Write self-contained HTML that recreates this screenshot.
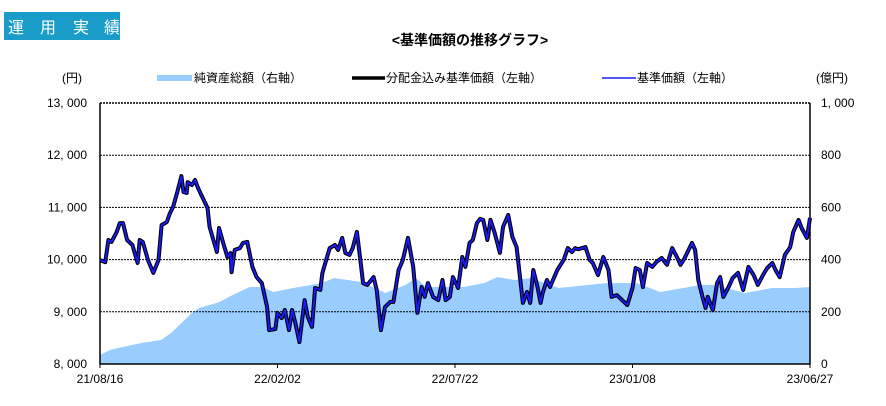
<!DOCTYPE html>
<html><head><meta charset="utf-8">
<style>
body{margin:0;background:#fff;width:886px;height:401px;overflow:hidden;font-family:"Liberation Sans","Noto Sans CJK JP",sans-serif;}
</style></head>
<body>
<svg id="chart" width="886" height="401" xmlns="http://www.w3.org/2000/svg" font-family="Liberation Sans, Noto Sans CJK JP, sans-serif">
<rect x="4" y="12" width="116" height="28" fill="#1a9cc8"/>
<g font-size="16" fill="#fff">
<text x="8" y="33">運</text><text x="40" y="33">用</text><text x="73" y="33">実</text><text x="104" y="33">績</text>
</g>
<text x="470" y="45" font-size="14" text-anchor="middle" fill="#000" font-weight="bold">&lt;基準価額の推移グラフ&gt;</text>
<text x="62" y="82" font-size="12">(円)</text>
<text x="816" y="82" font-size="12">(億円)</text>
<g>
<rect x="157" y="75" width="35" height="6" fill="#99ccff"/>
<text x="194" y="82" font-size="12">純資産総額（右軸）</text>
<line x1="352" y1="78" x2="385" y2="78" stroke="#000" stroke-width="3.5"/>
<text x="386" y="82" font-size="12">分配金込み基準価額（左軸）</text>
<line x1="602" y1="78" x2="636" y2="78" stroke="#1a1aff" stroke-width="1.5"/>
<text x="637" y="82" font-size="12">基準価額（左軸）</text>
</g>
<g id="plot"></g>
</svg>
<script>
const xTickLabels=["21/08/16","22/02/02","22/07/22","23/01/08","23/06/27"];
const xTickDays=[0,170,340,510,680];
const leftTicks=[8000,9000,10000,11000,12000,13000];
const rightTicks=[0,200,400,600,800,1000];
const aumDays=[0,10,40,60,70,80,90,97,117,130,147,160,170,190,217,230,257,280,300,310,320,357,377,390,407,423,450,497,527,550,590,603,633,660,683,697];
const aumValues=[34,54,80,92,119,157,195,214,237,264,295,295,276,291,310,329,314,272,303,329,295,295,310,333,322,329,291,310,310,276,303,303,272,291,291,295];
const aumDays2=aumDays.map(d=>d*680/697);
const navDays=[0,5,8,11,16,19,22,26,31,36,38,41,46,51,56,59,64,67,70,74,78,80,83,84,88,91,94,98,103,105,112,114,118,122,125,126,129,134,137,141,146,150,155,160,162,168,170,174,177,181,184,187,191,196,199,203,206,211,213,220,225,228,232,235,239,242,246,249,252,256,262,265,269,273,278,281,286,290,295,300,304,308,311,314,319,324,328,331,335,338,343,347,350,354,357,361,364,367,371,374,378,383,386,391,395,399,405,409,412,415,419,422,424,428,431,438,444,448,452,455,458,465,469,472,477,482,487,490,495,500,505,510,513,517,520,524,529,533,538,543,548,553,556,560,567,570,573,577,580,582,587,591,594,597,602,606,611,616,621,626,630,635,639,644,647,651,656,661,664,669,672,677,680];
const navValues=[9990,9950,10375,10340,10530,10700,10700,10375,10280,9935,10375,10340,9990,9745,9990,10660,10720,10890,11010,11295,11600,11295,11275,11485,11430,11525,11370,11200,10990,10625,10145,10605,10320,10050,10125,9760,10185,10220,10320,10340,9860,9665,9550,9090,8650,8670,8980,8880,9035,8650,9035,8790,8420,9225,8900,8710,9455,9420,9745,10220,10280,10185,10415,10125,10090,10220,10530,10050,9550,9515,9665,9420,8650,9090,9190,9190,9800,9990,10415,9860,8980,9475,9285,9550,9285,9225,9610,9225,9285,9665,9455,10050,9860,10320,10375,10700,10780,10760,10375,10760,10510,10130,10625,10855,10435,10240,9170,9380,9170,9800,9475,9170,9360,9610,9475,9800,9990,10220,10145,10220,10200,10240,9990,9935,9705,10050,9800,9285,9320,9225,9130,9455,9840,9800,9475,9935,9860,9955,10030,9900,10220,10030,9900,10030,10320,10185,9610,9285,9075,9285,9035,9550,9665,9285,9475,9650,9745,9420,9860,9705,9515,9705,9840,9935,9800,9665,10090,10240,10530,10760,10605,10415,10800];
const navDistValues=navValues.slice();

const X0=100,X1=810,Y0=364,Y1=103,DMAX=680;
const xs=d=>X0+d/DMAX*(X1-X0);
const yl=v=>Y0-(v-8000)/5000*(Y0-Y1);
const yr=v=>Y0-v/1000*(Y0-Y1);
const NS="http://www.w3.org/2000/svg";
const plot=document.getElementById('plot');
function mk(tag,attrs){const e=document.createElementNS(NS,tag);for(const k in attrs)e.setAttribute(k,attrs[k]);plot.appendChild(e);return e;}

let ad=`M${xs(0)},${Y0}`;
aumDays2.forEach((d,i)=>{ad+=` L${xs(d).toFixed(1)},${yr(aumValues[i]).toFixed(1)}`;});
ad+=` L${xs(DMAX)},${Y0} Z`;
const area=mk('path',{d:ad,fill:'#99ccff'});



leftTicks.forEach((t,i)=>{
  if(t>8000){const g=mk('line',{x1:X0,x2:X1,y1:yl(t),y2:yl(t),stroke:'#000','stroke-width':t===13000?1.5:1,'stroke-dasharray':'2,1'});
  
  }
  const lt=mk('text',{x:87,y:yl(t)+4,'font-size':12,'text-anchor':'end'});lt.textContent=t.toLocaleString('en-US').replace(',',', ');
  
  
});
rightTicks.forEach(t=>{
  const rt=mk('text',{x:821,y:yr(t)+4,'font-size':12});rt.textContent=t>=1000?t.toLocaleString('en-US').replace(',',', '):String(t);
  
  
});
const ax=mk('path',{d:`M${X0},${Y1} L${X0},${Y0} L${X1},${Y0} L${X1},${Y1}`,fill:'none',stroke:'#000','stroke-width':1.5});


xTickDays.forEach((d,i)=>{
  const tk=mk('line',{x1:xs(d),x2:xs(d),y1:Y0,y2:Y0+4,stroke:'#000'});
  
  
  const tl=mk('text',{x:xs(d),y:383,'font-size':12,'text-anchor':'middle'});tl.textContent=xTickLabels[i];
  
  
});
function linePath(vals){return navDays.map((d,i)=>(i?'L':'M')+xs(d).toFixed(1)+','+yl(vals[i]).toFixed(1)).join(' ');}
const l1=mk('path',{d:linePath(navDistValues),fill:'none',stroke:'#000','stroke-width':4,'stroke-linejoin':'round'});


const l2=mk('path',{d:linePath(navValues),fill:'none',stroke:'#1a1aff','stroke-width':1.8,'stroke-linejoin':'round'});


</script>
</body></html>
